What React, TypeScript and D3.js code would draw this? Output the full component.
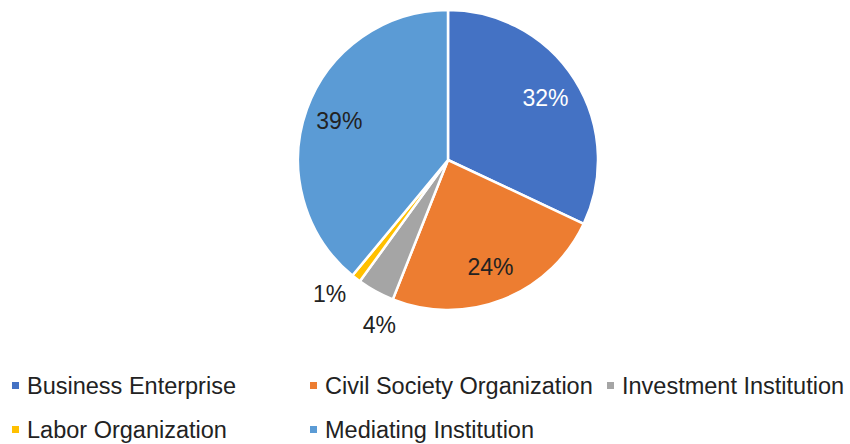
import React from "react";
import * as d3 from "d3";

const categories = ["Business Enterprise", "Civil Society Organization", "Investment Institution", "Labor Organization", "Mediating Institution"];
const values = [32, 24, 4, 1, 39];
const colors = ["#4472C4", "#ED7D31", "#A5A5A5", "#FFC000", "#5B9BD5"];
const labelColors = ["#ffffff", "#222222", "#222222", "#222222", "#222222"];

export default function App() {
  const width = 850, height = 444;
  const cx = 448, cy = 160, r = 150;
  const pie = d3.pie<number>().sort(null).value((d) => d);
  const arcs = pie(values);
  const arc = d3.arc<d3.PieArcDatum<number>>().innerRadius(0).outerRadius(r);
  const labelArcIn = d3.arc<d3.PieArcDatum<number>>().innerRadius(r * 0.77).outerRadius(r * 0.77);
  const labelArcOut = d3.arc<d3.PieArcDatum<number>>().innerRadius(r * 1.2).outerRadius(r * 1.2);

  const legendPos = [
    { x: 12, y: 386 },
    { x: 310, y: 386 },
    { x: 607, y: 386 },
    { x: 12, y: 430 },
    { x: 310, y: 430 },
  ];

  return (
    <svg width={width} height={height} style={{ position: "absolute", left: 0, top: 0, background: "#fff" }}
      fontFamily="'Liberation Sans', Arial, sans-serif">
      <g transform={`translate(${cx},${cy})`}>
        {arcs.map((a, i) => (
          <path key={i} d={arc(a) || ""} fill={colors[i]} stroke="#fff" strokeWidth={2.5} />
        ))}
        {arcs.map((a, i) => {
          const small = values[i] < 10;
          const [x, y] = small ? labelArcOut.centroid(a) : labelArcIn.centroid(a);
          let dx = 0, dy = 0;
          if (i === 2) { dx = 18; dy = 7; }
          if (i === 3) { dx = -8; dy = -8; }
          return (
            <text key={i} x={x + dx} y={y + dy} textAnchor="middle" dominantBaseline="central"
              fontSize={23} fill={labelColors[i]}>
              {values[i]}%
            </text>
          );
        })}
      </g>
      {categories.map((c, i) => (
        <g key={c} transform={`translate(${legendPos[i].x},${legendPos[i].y})`}>
          <rect x={0} y={-4} width={7} height={7} fill={colors[i]} />
          <text x={15} y={0} dominantBaseline="central" fontSize={23.5} fill="#222">{c}</text>
        </g>
      ))}
    </svg>
  );
}
